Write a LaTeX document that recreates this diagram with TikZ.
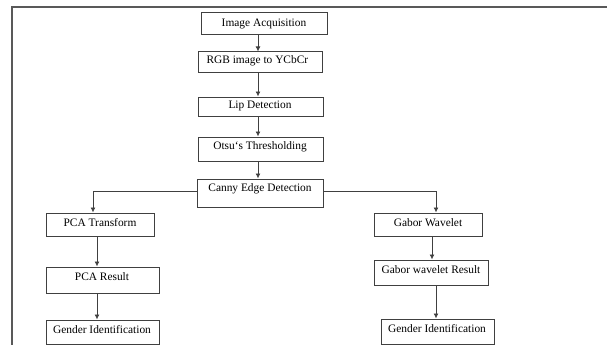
\documentclass[tikz,border=0pt]{standalone}
\usepackage{fontspec}
\setmainfont{Liberation Serif}
\usetikzlibrary{arrows.meta}
\begin{document}
\begin{tikzpicture}[x=1pt,y=-1pt,
  box/.style={draw=black!75, line width=1pt, inner sep=0pt},
  lbl/.style={font=\fontsize{11.4}{13}\selectfont, text=black},
  conn/.style={draw=black!75, line width=0.9pt, -{Latex[length=5pt,width=5pt]}}]
\useasboundingbox (0,0) rectangle (607,345);
\draw[black!65, line width=1.1pt] (607,7) -- (12,7) -- (12,345);
% boxes
\node[box, minimum width=126pt, minimum height=22pt] (ia) at (264,24) {};
\node[lbl] at (ia.center) {Image Acquisition};
\node[box, minimum width=124pt, minimum height=20pt] (rgb) at (260,62) {};
\node[lbl, anchor=west] at (203,61) {RGB image to YCbCr};
\node[box, minimum width=125pt, minimum height=19pt] (lip) at (260.5,106.5) {};
\node[lbl] at (260,106) {Lip Detection};
\node[box, minimum width=125pt, minimum height=24pt] (otsu) at (260.5,149) {};
\node[lbl] at (260,147) {Otsu`s Thresholding};
\node[box, minimum width=126pt, minimum height=28pt] (canny) at (260,193) {};
\node[lbl] at (260,189) {Canny Edge Detection};
\node[box, minimum width=108pt, minimum height=23pt] (pcat) at (100,224.5) {};
\node[lbl] at (100,223) {PCA Transform};
\node[box, minimum width=108pt, minimum height=23pt] (gw) at (428,224.5) {};
\node[lbl] at (428,223) {Gabor Wavelet};
\node[box, minimum width=113pt, minimum height=26pt] (pcar) at (102.5,280) {};
\node[lbl] at (102,277) {PCA Result};
\node[box, minimum width=114pt, minimum height=25pt] (gwr) at (431,272.5) {};
\node[lbl] at (431,270) {Gabor wavelet Result};
\node[box, minimum width=113pt, minimum height=24pt] (gil) at (102.5,332) {};
\node[lbl] at (102,330) {Gender Identification};
\node[box, minimum width=113pt, minimum height=25pt] (gir) at (437.5,331.5) {};
\node[lbl] at (437,329) {Gender Identification};
% connectors
\draw[conn] (ia.south -| 258,0) -- (rgb.north -| 258,0);
\draw[conn] (rgb.south -| 258,0) -- (lip.north -| 258,0);
\draw[conn] (lip.south -| 258,0) -- (otsu.north -| 258,0);
\draw[conn] (otsu.south -| 258,0) -- (canny.north -| 258,0);
\draw[conn] (canny.west |- 0,191) -| (pcat.north -| 93,0);
\draw[conn] (canny.east |- 0,191) -| (gw.north -| 436,0);
\draw[conn] (pcat.south -| 97,0) -- (pcar.north -| 97,0);
\draw[conn] (pcar.south -| 97,0) -- (gil.north -| 97,0);
\draw[conn] (gw.south -| 432,0) -- (gwr.north -| 432,0);
\draw[conn] (gwr.south -| 436,0) -- (gir.north -| 436,0);
\end{tikzpicture}
\end{document}
